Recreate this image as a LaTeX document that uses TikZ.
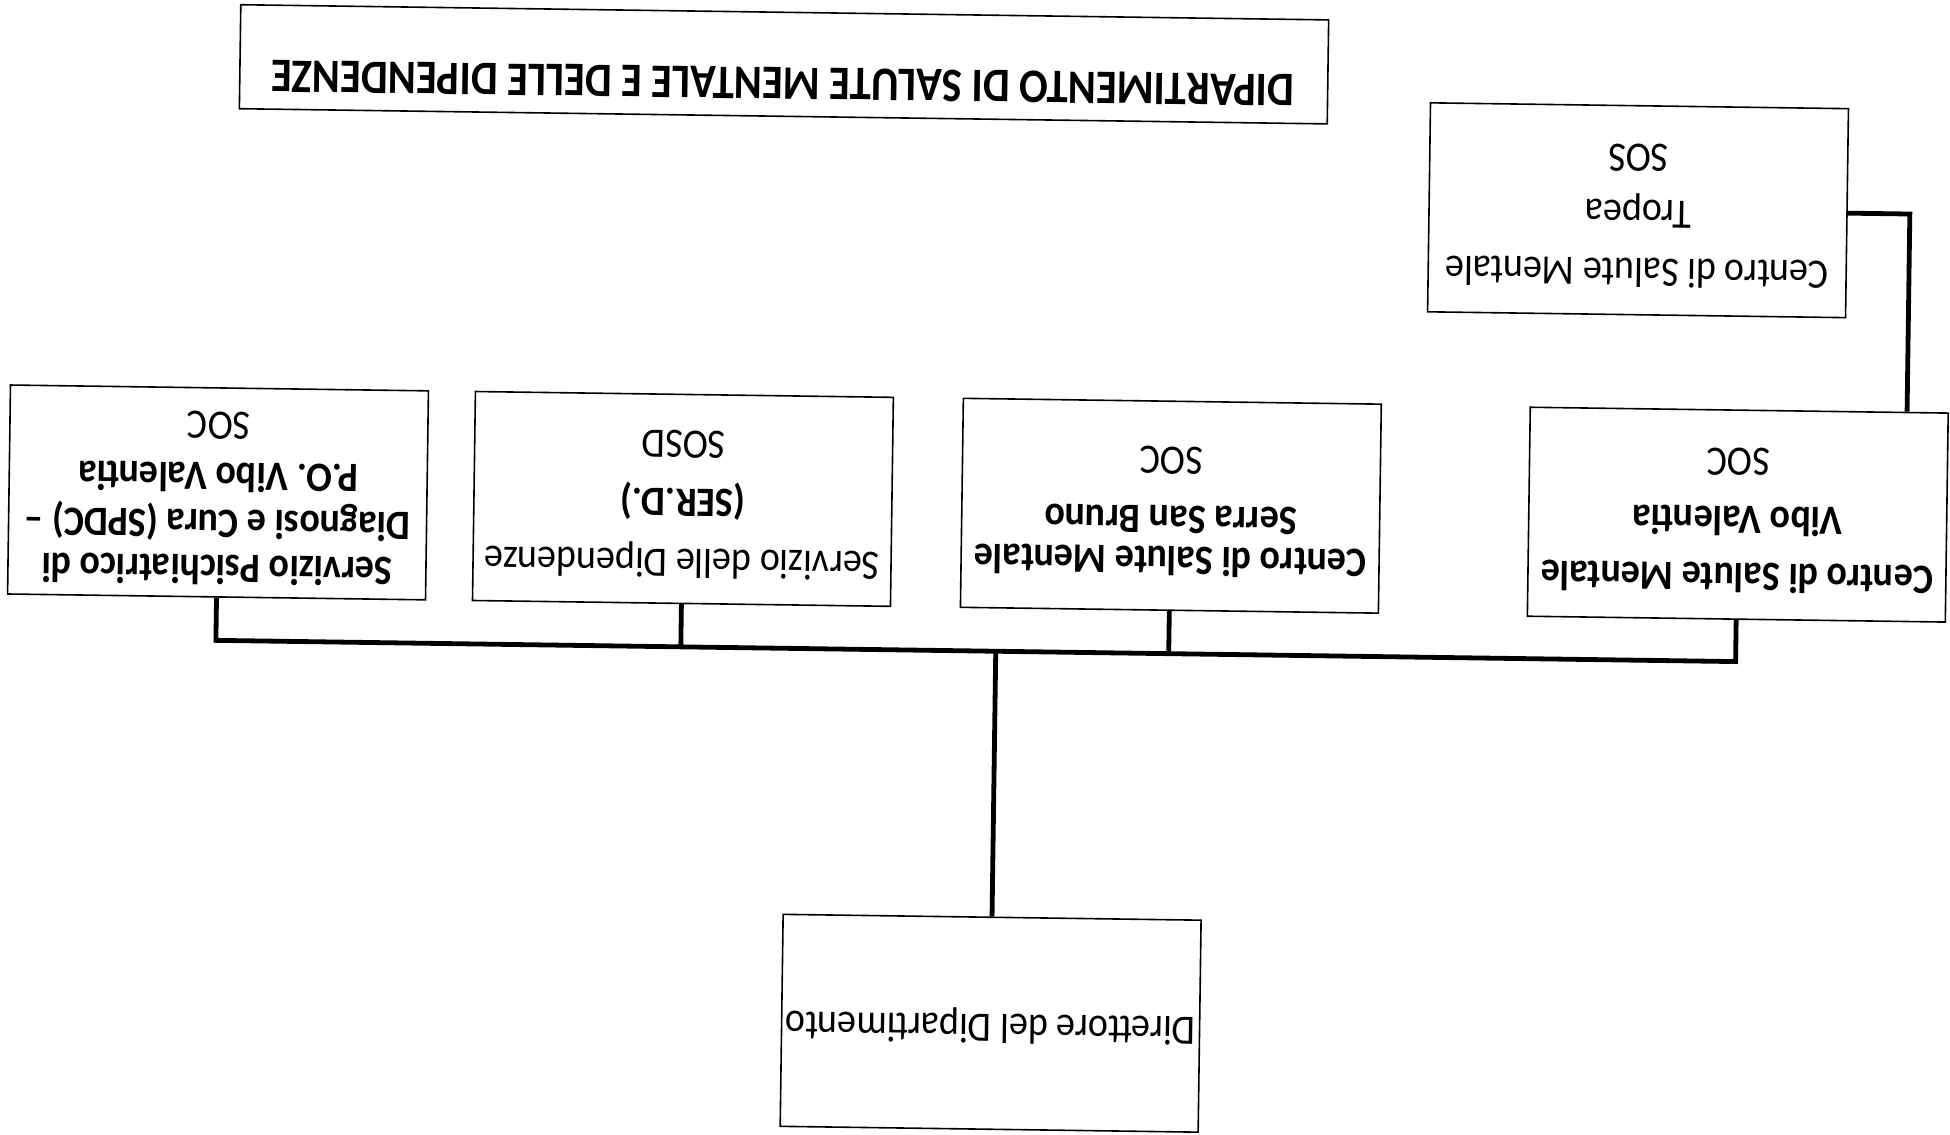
\documentclass[tikz,border=0pt]{standalone}
\usepackage{fontspec}
\setmainfont{Carlito}
\newcommand{\flipped}[1]{\rotatebox{180}{\scalebox{1}[1.1]{\fontsize{19}{20}\selectfont\begin{tabular}{@{}c@{}}#1\end{tabular}}}}
\begin{document}
\begin{tikzpicture}[x=0.5pt,y=-0.5pt]
\tikzset{
  box/.style={draw, line width=0.8pt, minimum width=209pt, minimum height=104.5pt, inner sep=0pt},
  link/.style={line width=2.4pt},
}
\useasboundingbox[fill=white] (0,0) rectangle (1950,1135);
\begin{scope}[rotate around={-0.8:(975,567)}, transform shape]
  % title
  \node[draw, line width=0.8pt, minimum width=544pt, minimum height=52pt] (tbox) at (777,67) {};
  \node[inner sep=0pt] (ttl) at (776,86) {\rotatebox{180}{\scalebox{1}[1.13]{\fontsize{21.3}{24}\selectfont\bfseries DIPARTIMENTO DI SALUTE MENTALE E DELLE DIPENDENZE}}};
  % boxes
  \node[box] (trop) at (1633,201) {\flipped{Centro di Salute Mentale\\[6.4pt] Tropea\\[5.5pt] SOS}};
  \node[box] (b1) at (217,503) {\flipped{\textbf{Servizio Psichiatrico di}\\[0.5pt] \textbf{Diagnosi e Cura (SPDC) –}\\[1.4pt] \textbf{P.O. Vibo Valentia}\\[3.2pt] SOC}};
  \node[box] (b2) at (682,503) {\flipped{Servizio delle Dipendenze\\[7.3pt] \textbf{(SER.D.)}\\[6.4pt] SOSD}};
  \node[box] (b3) at (1170,503) {\flipped{\textbf{Centro di Salute Mentale}\\[-1.4pt] \textbf{Serra San Bruno}\\[6.8pt] SOC}};
  \node[box] (b4) at (1737,504) {\flipped{\textbf{Centro di Salute Mentale}\\[5.9pt] \textbf{Vibo Valentia}\\[6.4pt] SOC}};
  \node[box, minimum height=106pt] (dir) at (997,1023) {\flipped{Direttore del Dipartimento}};
  % connectors
  \coordinate (bus) at (998,651);
  \coordinate (tk) at (1905,201);
  \draw[link] (b1.south) |- (b4.south |- bus) -- (b4.south);
  \draw[link] (b2.south) -- (b2.south |- bus);
  \draw[link] (b3.south) -- (b3.south |- bus);
  \draw[link] (dir.north) -- (dir.north |- bus);
  \draw[link] (trop.east) -| (tk |- b4.north);
\end{scope}
\end{tikzpicture}
\end{document}
